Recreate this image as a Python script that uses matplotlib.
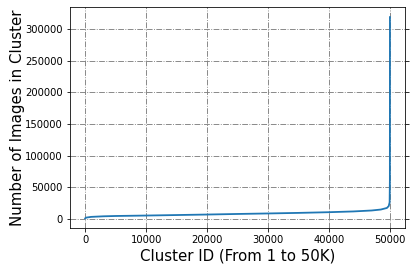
import matplotlib
matplotlib.use("Agg")
import matplotlib.pyplot as plt

# values
cluster_id = [0, 200, 1000, 3000, 5000, 10000, 15000, 20000, 25000, 30000,
              35000, 40000, 44000, 47000, 48500, 49500, 49800, 49950, 49990, 50000]
cluster_size = [500, 1800, 2900, 3800, 4300, 5000, 5800, 6600, 7500, 8300,
                9200, 10300, 11500, 13000, 14500, 17000, 20000, 26000, 60000, 319000]

# figure drawn at 72 dpi so the default sizes shrink like the reference
fig, ax = plt.subplots(figsize=(416 / 72, 271 / 72), dpi=72)
ax.plot(cluster_id, cluster_size, color="tab:blue", linewidth=1.8)

ax.grid(True, linestyle="-.", color="gray", linewidth=0.9)
ax.tick_params(labelsize=10, right=True)
ax.set_xticks([0, 10000, 20000, 30000, 40000, 50000])
ax.set_xlabel("Cluster ID (From 1 to 50K)", fontsize=15, labelpad=3)
ax.set_ylabel("Number of Images in Cluster", fontsize=15, labelpad=0)

fig.subplots_adjust(left=0.168, right=0.974, top=0.974, bottom=0.157)
fig.savefig("out.png")
